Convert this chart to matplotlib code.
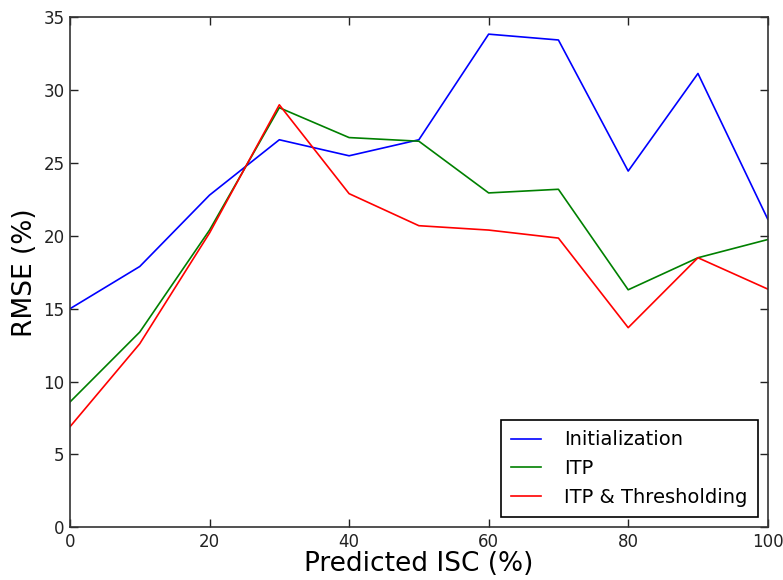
import matplotlib
matplotlib.use("Agg")
import matplotlib.pyplot as plt

# predicted ISC levels (%)
isc = [0, 10, 20, 30, 40, 50, 60, 70, 80, 90, 100]

# RMSE (%) per method
rmse_init = [15.0, 17.9, 22.8, 26.6, 25.5, 26.6, 33.85, 33.45, 24.45, 31.15, 21.15]
rmse_itp = [8.6, 13.4, 20.4, 28.8, 26.75, 26.5, 22.95, 23.2, 16.3, 18.5, 19.75]
rmse_itp_thr = [6.9, 12.6, 20.2, 29.0, 22.9, 20.7, 20.4, 19.85, 13.7, 18.5, 16.35]

labels = ['Initialization', 'ITP', 'ITP & Thresholding']

fig = plt.figure(figsize=(7.83, 5.8), dpi=100)
ax = fig.add_axes([0.0894, 0.091, 0.8911, 0.879])

ax.plot(isc, rmse_init, color='b', lw=1.2, label=labels[0])
ax.plot(isc, rmse_itp, color='g', lw=1.2, label=labels[1])
ax.plot(isc, rmse_itp_thr, color='r', lw=1.2, label=labels[2])

ax.set_xlim(0, 100)
ax.set_ylim(0, 35)
ax.set_xticks(range(0, 101, 20))
ax.set_yticks(range(0, 36, 5))
ax.tick_params(direction='in', length=6, width=1, top=True, right=True,
               labelsize=12, pad=4, colors='#222222')
for sp in ax.spines.values():
    sp.set_linewidth(1.2)
    sp.set_color('#333333')

ax.set_xlabel('Predicted ISC (%)', fontsize=19, labelpad=0)
ax.set_ylabel('RMSE (%)', fontsize=19, labelpad=4)

leg = ax.legend(loc='lower right', fontsize=14, fancybox=False,
                edgecolor='black', framealpha=1, handlelength=1.5,
                handletextpad=1.2, labelspacing=0.5, borderpad=0.55,
                borderaxespad=0.5)
leg.get_frame().set_linewidth(1.2)

fig.savefig('out.png', dpi=100)
